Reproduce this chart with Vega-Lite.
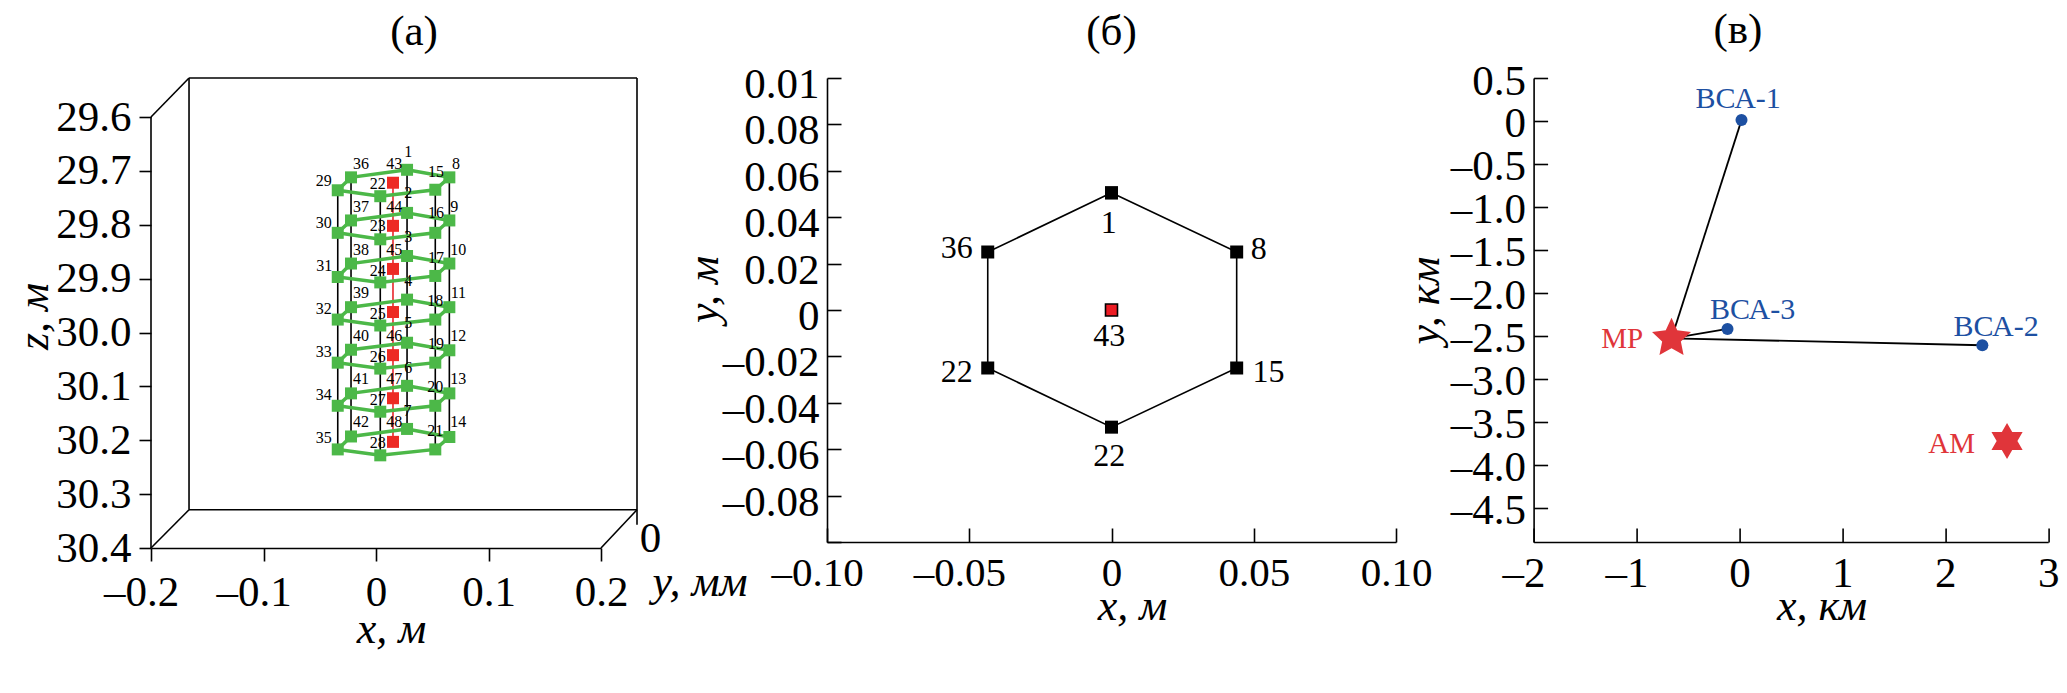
{
"$schema":"https://vega.github.io/schema/vega-lite/v6.json",
"background":"white",
"padding":{"left":12,"top":9,"right":0,"bottom":0},
"bounds":"flush",
"spacing":226,
"config":{"font":"Liberation Serif","view":{"stroke":null},
"title":{"font":"Liberation Serif","fontSize":43,"fontWeight":"normal","anchor":"middle","frame":"group","color":"#000"},
"axis":{"labelFont":"Liberation Serif","titleFont":"Liberation Serif","labelFontSize":43,"titleFontSize":44,"titleFontWeight":"normal","titleFontStyle":"italic","domainColor":"#000","tickColor":"#000","labelColor":"#000","titleColor":"#000","grid":false,"labelOverlap":false,"labelBound":false,"labelFlush":false,"domainWidth":1.6,"tickWidth":1.6}},
"datasets":{
"frameA":[
{"x":-0.1662,"z":29.5276,"x2":0.232,"z2":29.5276},
{"x":0.232,"z":29.5276,"x2":0.232,"z2":30.357},
{"x":0.232,"z":30.329,"x2":-0.1662,"z2":30.329},
{"x":-0.1662,"z":30.329,"x2":-0.1662,"z2":29.5276},
{"x":-0.2,"z":29.6,"x2":-0.1662,"z2":29.5276},
{"x":-0.2,"z":30.4,"x2":-0.1662,"z2":30.329},
{"x":0.2,"z":30.4,"x2":0.232,"z2":30.329},
{"x":-0.2,"z":29.6,"x2":-0.2,"z2":30.4}],
"nodes":[
{"col":"BC","ring":1,"seq":0,"x":0.0276,"z":29.698},{"col":"BR","ring":1,"seq":1,"x":0.0652,"z":29.712},{"col":"FR","ring":1,"seq":2,"x":0.0527,"z":29.735},{"col":"FC","ring":1,"seq":3,"x":0.0038,"z":29.747},{"col":"FL","ring":1,"seq":4,"x":-0.034,"z":29.736},{"col":"BL","ring":1,"seq":5,"x":-0.0222,"z":29.712},{"col":"BC","ring":1,"seq":6,"x":0.0276,"z":29.698},
{"col":"BC","ring":2,"seq":0,"x":0.0276,"z":29.778},{"col":"BR","ring":2,"seq":1,"x":0.0652,"z":29.792},{"col":"FR","ring":2,"seq":2,"x":0.0527,"z":29.815},{"col":"FC","ring":2,"seq":3,"x":0.0038,"z":29.827},{"col":"FL","ring":2,"seq":4,"x":-0.034,"z":29.815},{"col":"BL","ring":2,"seq":5,"x":-0.0222,"z":29.792},{"col":"BC","ring":2,"seq":6,"x":0.0276,"z":29.778},
{"col":"BC","ring":3,"seq":0,"x":0.0276,"z":29.858},{"col":"BR","ring":3,"seq":1,"x":0.0652,"z":29.872},{"col":"FR","ring":3,"seq":2,"x":0.0527,"z":29.895},{"col":"FC","ring":3,"seq":3,"x":0.0038,"z":29.907},{"col":"FL","ring":3,"seq":4,"x":-0.034,"z":29.897},{"col":"BL","ring":3,"seq":5,"x":-0.0222,"z":29.872},{"col":"BC","ring":3,"seq":6,"x":0.0276,"z":29.858},
{"col":"BC","ring":4,"seq":0,"x":0.0276,"z":29.939},{"col":"BR","ring":4,"seq":1,"x":0.0652,"z":29.953},{"col":"FR","ring":4,"seq":2,"x":0.0527,"z":29.976},{"col":"FC","ring":4,"seq":3,"x":0.0038,"z":29.987},{"col":"FL","ring":4,"seq":4,"x":-0.034,"z":29.976},{"col":"BL","ring":4,"seq":5,"x":-0.0222,"z":29.953},{"col":"BC","ring":4,"seq":6,"x":0.0276,"z":29.939},
{"col":"BC","ring":5,"seq":0,"x":0.0276,"z":30.019},{"col":"BR","ring":5,"seq":1,"x":0.0652,"z":30.033},{"col":"FR","ring":5,"seq":2,"x":0.0527,"z":30.056},{"col":"FC","ring":5,"seq":3,"x":0.0038,"z":30.067},{"col":"FL","ring":5,"seq":4,"x":-0.034,"z":30.056},{"col":"BL","ring":5,"seq":5,"x":-0.0222,"z":30.032},{"col":"BC","ring":5,"seq":6,"x":0.0276,"z":30.019},
{"col":"BC","ring":6,"seq":0,"x":0.0276,"z":30.099},{"col":"BR","ring":6,"seq":1,"x":0.0652,"z":30.113},{"col":"FR","ring":6,"seq":2,"x":0.0527,"z":30.136},{"col":"FC","ring":6,"seq":3,"x":0.0038,"z":30.147},{"col":"FL","ring":6,"seq":4,"x":-0.034,"z":30.136},{"col":"BL","ring":6,"seq":5,"x":-0.0222,"z":30.113},{"col":"BC","ring":6,"seq":6,"x":0.0276,"z":30.099},
{"col":"BC","ring":7,"seq":0,"x":0.0276,"z":30.179},{"col":"BR","ring":7,"seq":1,"x":0.0652,"z":30.194},{"col":"FR","ring":7,"seq":2,"x":0.0527,"z":30.217},{"col":"FC","ring":7,"seq":3,"x":0.0038,"z":30.228},{"col":"FL","ring":7,"seq":4,"x":-0.034,"z":30.217},{"col":"BL","ring":7,"seq":5,"x":-0.0222,"z":30.193},{"col":"BC","ring":7,"seq":6,"x":0.0276,"z":30.179}],
"axisNodes":[
{"ring":1,"x":0.0151,"z":29.722},{"ring":2,"x":0.0151,"z":29.802},{"ring":3,"x":0.0151,"z":29.882},{"ring":4,"x":0.0151,"z":29.962},{"ring":5,"x":0.0151,"z":30.042},{"ring":6,"x":0.0151,"z":30.122},{"ring":7,"x":0.0151,"z":30.203}],
"labelsA":[
{"t":"1","x":0.0287,"z":29.665},{"t":"2","x":0.0287,"z":29.741},{"t":"3","x":0.0287,"z":29.823},{"t":"4","x":0.0287,"z":29.905},{"t":"5","x":0.0287,"z":29.983},{"t":"6","x":0.0287,"z":30.066},{"t":"7","x":0.0281,"z":30.146},
{"t":"8","x":0.0711,"z":29.687},{"t":"9","x":0.0696,"z":29.767},{"t":"10","x":0.0732,"z":29.846},{"t":"11","x":0.0732,"z":29.927},{"t":"12","x":0.0732,"z":30.007},{"t":"13","x":0.0732,"z":30.087},{"t":"14","x":0.0732,"z":30.167},
{"t":"15","x":0.0533,"z":29.702},{"t":"16","x":0.0533,"z":29.779},{"t":"17","x":0.0533,"z":29.862},{"t":"18","x":0.0527,"z":29.942},{"t":"19","x":0.0533,"z":30.021},{"t":"20","x":0.0527,"z":30.101},{"t":"21","x":0.0527,"z":30.183},
{"t":"22","x":0.0015,"z":29.724},{"t":"23","x":0.0015,"z":29.803},{"t":"24","x":0.0015,"z":29.885},{"t":"25","x":0.0015,"z":29.965},{"t":"26","x":0.0015,"z":30.045},{"t":"27","x":0.0015,"z":30.126},{"t":"28","x":0.0015,"z":30.206},
{"t":"29","x":-0.0465,"z":29.718},{"t":"30","x":-0.0465,"z":29.796},{"t":"31","x":-0.0459,"z":29.876},{"t":"32","x":-0.0465,"z":29.956},{"t":"33","x":-0.0465,"z":30.036},{"t":"34","x":-0.0465,"z":30.116},{"t":"35","x":-0.0465,"z":30.196},
{"t":"36","x":-0.0133,"z":29.687},{"t":"37","x":-0.0133,"z":29.767},{"t":"38","x":-0.0133,"z":29.846},{"t":"39","x":-0.0133,"z":29.927},{"t":"40","x":-0.0133,"z":30.007},{"t":"41","x":-0.0133,"z":30.087},{"t":"42","x":-0.0133,"z":30.167},
{"t":"43","x":0.0163,"z":29.687},{"t":"44","x":0.0163,"z":29.767},{"t":"45","x":0.0163,"z":29.846},{"t":"46","x":0.0163,"z":30.007},{"t":"47","x":0.0163,"z":30.087},{"t":"48","x":0.0163,"z":30.167}],
"hexB":[
{"seq":0,"x":0,"y":0.0505},{"seq":1,"x":0.044,"y":0.025},{"seq":2,"x":0.044,"y":-0.025},{"seq":3,"x":0,"y":-0.0505},{"seq":4,"x":-0.0435,"y":-0.025},{"seq":5,"x":-0.0435,"y":0.025},{"seq":6,"x":0,"y":0.0505}],
"labelsB":[
{"t":"1","x":-0.001,"y":0.0377},{"t":"8","x":0.0518,"y":0.0264},{"t":"36","x":-0.0544,"y":0.0268},{"t":"22","x":-0.0544,"y":-0.0266},{"t":"15","x":0.0552,"y":-0.0266},{"t":"22","x":-0.0008,"y":-0.0629},{"t":"43","x":-0.0008,"y":-0.0114}],
"linksC":[
{"x":-0.66,"y":-2.53,"x2":0.02,"y2":0.01},{"x":-0.66,"y":-2.53,"x2":2.36,"y2":-2.61},{"x":-0.66,"y":-2.53,"x2":-0.116,"y2":-2.42}],
"pointsC":[{"n":"ВСА-1","x":0.02,"y":0.01},{"n":"ВСА-2","x":2.36,"y":-2.61},{"n":"ВСА-3","x":-0.116,"y":-2.42}],
"labelsBlue":[{"t":"ВСА-1","x":-0.012,"y":0.251},{"t":"ВСА-3","x":0.128,"y":-2.196},{"t":"ВСА-2","x":2.494,"y":-2.399}],
"labelsRed":[{"t":"МР","x":-1.139,"y":-2.539},{"t":"АМ","x":2.061,"y":-3.755}]
},
"hconcat":[
{"width":450,"height":470,
"title":{"text":"(а)","dx":38,"offset":23},
"encoding":{
"x":{"field":"x","type":"quantitative","scale":{"domain":[-0.2,0.2],"nice":false,"zero":false},
"axis":{"title":"x, м","titleX":240,"titleY":59,"values":[-0.2,-0.1,0,0.1,0.2],"tickSize":13,"labelPadding":10,"labelOffset":{"condition":{"test":"datum.value<0","value":-10},"value":0},"labelExpr":"datum.value==0?'0':(datum.value<0?'–':'')+format(abs(datum.value),'.1f')"}},
"y":{"field":"z","type":"quantitative","scale":{"domain":[29.5276,30.4],"reverse":true,"nice":false,"zero":false},
"axis":{"title":"z, м","titleX":-95,"titleY":238,"domain":false,"values":[29.6,29.7,29.8,29.9,30.0,30.1,30.2,30.3,30.4],"format":".1f","tickSize":12,"labelPadding":8}}},
"layer":[
{"data":{"name":"frameA"},"mark":{"type":"rule","color":"#000","strokeWidth":1.6},"encoding":{"x2":{"field":"x2"},"y2":{"field":"z2"}}},
{"data":{"name":"nodes"},"transform":[{"filter":"datum.seq<6"}],"mark":{"type":"line","color":"#000","strokeWidth":1.6},"encoding":{"detail":{"field":"col"},"order":{"field":"ring"}}},
{"data":{"name":"axisNodes"},"mark":{"type":"line","color":"#e8262b","strokeWidth":1.6},"encoding":{"order":{"field":"ring"}}},
{"data":{"name":"nodes"},"mark":{"type":"line","color":"#4cb848","strokeWidth":3.5},"encoding":{"detail":{"field":"ring"},"order":{"field":"seq"}}},
{"data":{"name":"nodes"},"transform":[{"filter":"datum.seq<6"}],"mark":{"type":"square","size":144,"color":"#4cb848","opacity":1}},
{"data":{"name":"axisNodes"},"mark":{"type":"square","size":144,"color":"#ed2a24","opacity":1}},
{"data":{"name":"labelsA"},"mark":{"type":"text","fontSize":16,"color":"#000"},"encoding":{"text":{"field":"t"}}},
{"data":{"values":[{"t":"0","x":0.244,"z":30.384}]},"mark":{"type":"text","fontSize":43,"color":"#000"},"encoding":{"text":{"field":"t"}}},
{"data":{"values":[{"t":"y, мм","x":0.288,"z":30.465}]},"mark":{"type":"text","fontSize":44,"fontStyle":"italic","color":"#000"},"encoding":{"text":{"field":"t"}}}
]},
{"bounds":"flush","spacing":137.6,"hconcat":[
{"width":569,"height":464,
"title":{"text":"(б)","offset":10},
"encoding":{
"x":{"field":"x","type":"quantitative","scale":{"domain":[-0.1,0.1],"nice":false,"zero":false},
"axis":{"title":"x, м","titleX":305,"titleY":42,"values":[-0.1,-0.05,0,0.05,0.1],"tickSize":-14,"labelFontSize":41,"labelPadding":25,"labelOffset":{"condition":{"test":"datum.value<0","value":-10},"value":0},"labelExpr":"datum.value==0?'0':(datum.value<0?'–':'')+format(abs(datum.value),'.2f')"}},
"y":{"field":"y","type":"quantitative","scale":{"domain":[-0.1,0.1],"nice":false,"zero":false},
"axis":{"title":"y, м","titleX":-101,"titleY":211,"values":[0.1,0.08,0.06,0.04,0.02,0,-0.02,-0.04,-0.06,-0.08,-0.1],"tickSize":-14,"labelPadding":22,"labelOffset":6.5,"labelExpr":"datum.value==0.1?'0.01':datum.value==-0.1?'':datum.value==0?'0':(datum.value<0?'–':'')+format(abs(datum.value),'.2f')"}}},
"layer":[
{"data":{"name":"hexB"},"mark":{"type":"line","color":"#000","strokeWidth":1.6},"encoding":{"order":{"field":"seq"}}},
{"data":{"name":"hexB"},"mark":{"type":"square","size":169,"color":"#000","opacity":1}},
{"data":{"values":[{"x":0,"y":0}]},"mark":{"type":"square","size":144,"fill":"#ed1c24","stroke":"#000","strokeWidth":1.6,"opacity":1}},
{"data":{"name":"labelsB"},"mark":{"type":"text","fontSize":32,"color":"#000"},"encoding":{"text":{"field":"t"}}}
]},
{"width":514.6,"height":464,
"title":{"text":"(в)","dx":-53,"offset":8},
"encoding":{
"x":{"field":"x","type":"quantitative","scale":{"domain":[-2,3],"nice":false,"zero":false},
"axis":{"title":"x, км","titleX":288,"titleY":42,"values":[-2,-1,0,1,2,3],"tickSize":-14,"labelPadding":24,"labelOffset":{"condition":{"test":"datum.value<0","value":-10},"value":0},"labelExpr":"datum.value==0?'0':(datum.value<0?'–':'')+format(abs(datum.value),'d')"}},
"y":{"field":"y","type":"quantitative","scale":{"domain":[-4.9,0.5],"nice":false,"zero":false},
"axis":{"title":"y, км","titleX":-86,"titleY":222,"values":[0.5,0,-0.5,-1,-1.5,-2,-2.5,-3,-3.5,-4,-4.5],"tickSize":-14,"labelPadding":22,"labelOffset":3,"labelExpr":"datum.value==0?'0':(datum.value<0?'–':'')+format(abs(datum.value),'.1f')"}}},
"layer":[
{"data":{"name":"linksC"},"mark":{"type":"rule","color":"#000","strokeWidth":1.8},"encoding":{"x2":{"field":"x2"},"y2":{"field":"y2"}}},
{"data":{"name":"pointsC"},"mark":{"type":"circle","size":145,"color":"#1d50a2","opacity":1}},
{"data":{"values":[{"x":-0.66,"y":-2.53}]},"mark":{"type":"point","filled":true,"size":1681,"color":"#e0353a","opacity":1,"shape":"M0,-1L0.28,-0.39L0.951,-0.309L0.456,0.148L0.588,0.809L0,0.48L-0.588,0.809L-0.456,0.148L-0.951,-0.309L-0.28,-0.39Z"}},
{"data":{"values":[{"x":2.6,"y":-3.726}]},"mark":{"type":"point","filled":true,"size":1296,"color":"#e0353a","opacity":1,"shape":"M0,-1L0.289,-0.5L0.866,-0.5L0.577,0L0.866,0.5L0.289,0.5L0,1L-0.289,0.5L-0.866,0.5L-0.577,0L-0.866,-0.5L-0.289,-0.5Z"}},
{"data":{"name":"labelsBlue"},"mark":{"type":"text","fontSize":30,"color":"#1d50a2"},"encoding":{"text":{"field":"t"}}},
{"data":{"name":"labelsRed"},"mark":{"type":"text","fontSize":29,"color":"#e0353a"},"encoding":{"text":{"field":"t"}}}
]}
]}
]
}
